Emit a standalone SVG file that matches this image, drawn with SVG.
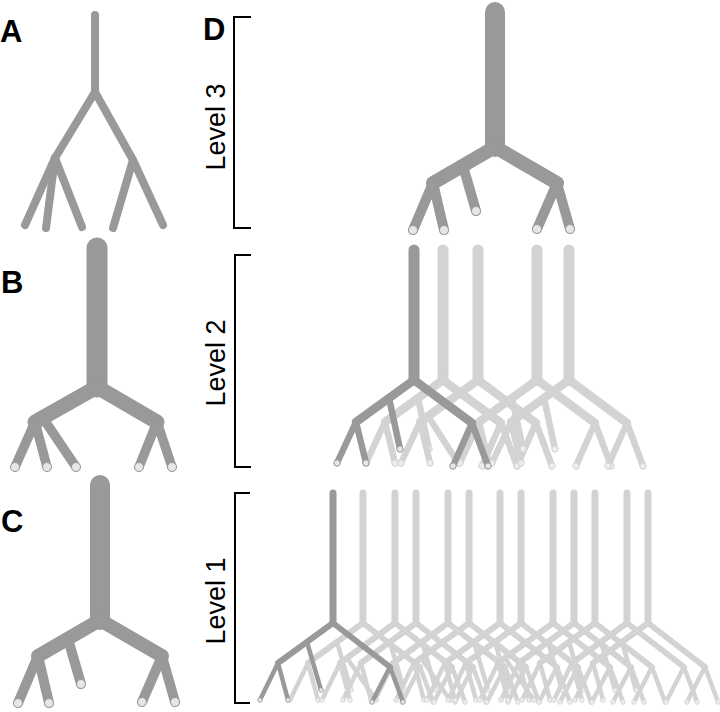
<svg xmlns="http://www.w3.org/2000/svg" xmlns:xlink="http://www.w3.org/1999/xlink" width="720" height="712" viewBox="0 0 720 712">
<style>
.dk{stroke:#999999;fill:#e6e6e6}
.lt{stroke:#d3d3d3;fill:#ededed}
.lbl{font-family:"Liberation Sans",Arial,sans-serif;font-weight:bold;font-size:31px;fill:#000}
.lev{font-family:"Liberation Sans",Arial,sans-serif;font-size:27px;fill:#000}
.brk{fill:none;stroke:#000;stroke-width:2}
.tree path{fill:none;stroke-linecap:round;stroke-linejoin:round}
</style>
<defs>
<!-- level 3 / panel C type -->
<g id="c3" class="tree">
<path d="M0,-135V0" stroke-width="20"/>
<path d="M-62,36L0,0L62,36" stroke-width="14"/>
<path d="M-82,83L-62,36L-51,83M-32,19L-19,64M42,82L62,36L75,82" stroke-width="10"/>
<g stroke-width="1"><circle cx="-82" cy="83" r="4.5"/><circle cx="-51" cy="83" r="4.5"/><circle cx="-19" cy="64" r="4.5"/><circle cx="42" cy="82" r="4.5"/><circle cx="75" cy="82" r="4.5"/></g>
</g>
<g id="b3" class="tree">
<path d="M0,-139V0" stroke-width="21"/>
<path d="M-62,35L0,0L60,35" stroke-width="15"/>
<path d="M-82,80L-62,35L-50,80M-54,31L-21,80M42,80L60,35L75,80" stroke-width="9.5"/>
<g stroke-width="1"><circle cx="-82" cy="80" r="4.5"/><circle cx="-50" cy="80" r="4.5"/><circle cx="-21" cy="80" r="4.5"/><circle cx="42" cy="80" r="4.5"/><circle cx="75" cy="80" r="4.5"/></g>
</g>
<!-- level 2 -->
<g id="c2" class="tree">
<path d="M0,-130V0" stroke-width="11"/>
<path d="M-58,42L0,0L58,43" stroke-width="8.5"/>
<path d="M-77,83L-58,42L-48,83M-25,18L-14,69M39,86L58,43L74,86" stroke-width="6.5"/>
<g stroke-width="1"><circle cx="-77" cy="83" r="3.2"/><circle cx="-48" cy="83" r="3.2"/><circle cx="-14" cy="69" r="3.2"/><circle cx="39" cy="86" r="3.2"/><circle cx="74" cy="86" r="3.2"/></g>
</g>
<g id="b2" class="tree">
<path d="M0,-130V0" stroke-width="11"/>
<path d="M-58,42L0,0L58,43" stroke-width="8.5"/>
<path d="M-77,83L-58,42L-48,83M-50,36L-20,83M39,86L58,43L74,86" stroke-width="6.5"/>
<g stroke-width="1"><circle cx="-77" cy="83" r="3.2"/><circle cx="-48" cy="83" r="3.2"/><circle cx="-20" cy="83" r="3.2"/><circle cx="39" cy="86" r="3.2"/><circle cx="74" cy="86" r="3.2"/></g>
</g>
<!-- level 1 -->
<g id="c1" class="tree">
<path d="M0,-130V0" stroke-width="7"/>
<path d="M-55,40L0,0L57,44" stroke-width="6"/>
<path d="M-73,77L-55,40L-45,77M-26,19L-12,67M39,79L57,44L70,79" stroke-width="4.5"/>
<g stroke-width="0.8"><circle cx="-73" cy="77" r="2.3"/><circle cx="-45" cy="77" r="2.3"/><circle cx="-12" cy="67" r="2.3"/><circle cx="39" cy="79" r="2.3"/><circle cx="70" cy="79" r="2.3"/></g>
</g>
<g id="b1" class="tree">
<path d="M0,-130V0" stroke-width="7"/>
<path d="M-55,40L0,0L57,44" stroke-width="6"/>
<path d="M-73,77L-55,40L-45,77M-48,35L-19,77M39,79L57,44L70,79" stroke-width="4.5"/>
<g stroke-width="0.8"><circle cx="-73" cy="77" r="2.3"/><circle cx="-45" cy="77" r="2.3"/><circle cx="-19" cy="77" r="2.3"/><circle cx="39" cy="79" r="2.3"/><circle cx="70" cy="79" r="2.3"/></g>
</g>
</defs>
<rect width="720" height="712" fill="#ffffff"/>

<g id="panel-labels">
<text class="lbl" x="0" y="42">A</text>
<text class="lbl" x="1" y="293">B</text>
<text class="lbl" x="1" y="532">C</text>
<text class="lbl" x="203" y="40">D</text>
</g>

<g id="panel-A" fill="none" stroke="#999999" stroke-width="8" stroke-linecap="round" stroke-linejoin="round">
<path d="M95,15V92"/>
<path d="M95,92L55,158L25,225"/>
<path d="M55,158L46,228"/>
<path d="M55,158L82,227"/>
<path d="M95,92L133,160L163,225"/>
<path d="M133,160L113,228"/>
</g>

<g id="panel-B"><use xlink:href="#b3" href="#b3" class="dk" x="97" y="387"/></g>
<g id="panel-C"><use xlink:href="#c3" href="#c3" class="dk" x="100" y="620"/></g>

<g id="brackets">
<path class="brk" d="M251,17H234V228H251"/>
<path class="brk" d="M251,255H235V467H251"/>
<path class="brk" d="M250,493H235V703H250"/>
<text class="lev" text-anchor="middle" transform="translate(225,127) rotate(-90)">Level 3</text>
<text class="lev" text-anchor="middle" transform="translate(225,363) rotate(-90)">Level 2</text>
<text class="lev" text-anchor="middle" transform="translate(225,601) rotate(-90)">Level 1</text>
</g>

<g id="level-3"><use xlink:href="#c3" href="#c3" class="dk" x="495" y="147"/></g>

<g id="level-2">
<use xlink:href="#c2" href="#c2" class="lt" x="443" y="380"/>
<use xlink:href="#b2" href="#b2" class="lt" x="478" y="380"/>
<use xlink:href="#c2" href="#c2" class="lt" x="537" y="380"/>
<use xlink:href="#c2" href="#c2" class="lt" x="569" y="380"/>
<use xlink:href="#c2" href="#c2" class="dk" x="414" y="380"/>
</g>

<g id="level-1">
<use xlink:href="#c1" href="#c1" class="lt" x="363" y="623"/>
<use xlink:href="#b1" href="#b1" class="lt" x="395" y="623"/>
<use xlink:href="#c1" href="#c1" class="lt" x="416" y="623"/>
<use xlink:href="#c1" href="#c1" class="lt" x="448" y="623"/>
<use xlink:href="#b1" href="#b1" class="lt" x="469" y="623"/>
<use xlink:href="#c1" href="#c1" class="lt" x="500" y="623"/>
<use xlink:href="#c1" href="#c1" class="lt" x="521" y="623"/>
<use xlink:href="#b1" href="#b1" class="lt" x="553" y="623"/>
<use xlink:href="#c1" href="#c1" class="lt" x="574" y="623"/>
<use xlink:href="#c1" href="#c1" class="lt" x="595" y="623"/>
<use xlink:href="#c1" href="#c1" class="lt" x="627" y="623"/>
<use xlink:href="#c1" href="#c1" class="lt" x="648" y="623"/>
<use xlink:href="#c1" href="#c1" class="dk" x="333" y="623"/>
</g>
</svg>
